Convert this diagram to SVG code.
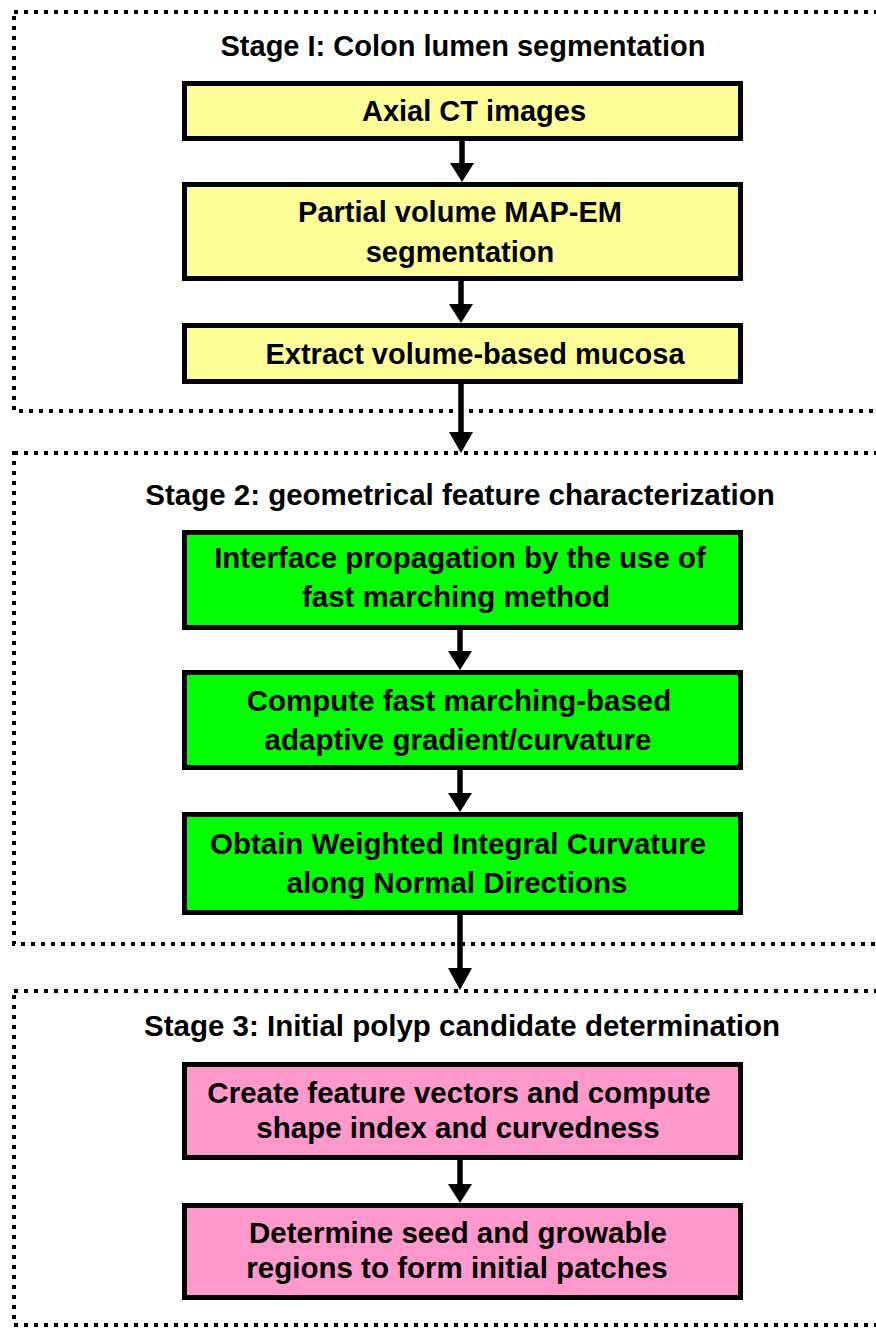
<svg xmlns="http://www.w3.org/2000/svg" width="876" height="1328" viewBox="0 0 876 1328">
<style>
.frame{fill:none;stroke:#000;stroke-width:4;stroke-dasharray:4 6}
.box{stroke:#000;stroke-width:5}
.y{fill:#FFFF99}.g{fill:#00FF00}.p{fill:#FF99CC}
text{font-family:"Liberation Sans",Arial,sans-serif;font-weight:bold;font-size:29px;fill:#000;text-anchor:middle}
.t2{font-size:29.5px}
.ln{stroke:#000;stroke-width:5.5}
</style>
<rect width="876" height="1328" fill="#fff"/>
<g id="stage1">
<rect class="frame" x="14" y="12" width="880" height="399"/>
<text x="463" y="56">Stage I: Colon lumen segmentation</text>
</g>
<g id="stage2">
<rect class="frame" x="14" y="453" width="880" height="491"/>
<text class="t2" x="460" y="505">Stage 2: geometrical feature characterization</text>
</g>
<g id="stage3">
<rect class="frame" x="14" y="991" width="880" height="334"/>
<text class="t2" x="462" y="1036">Stage 3: Initial polyp candidate determination</text>
</g>
<g id="n1"><rect class="box y" x="184.5" y="83.5" width="556" height="55"/><text x="474" y="121">Axial CT images</text></g>
<g id="n2"><rect class="box y" x="184.5" y="184.5" width="556" height="94"/><text x="460" y="222">Partial volume MAP-EM</text><text x="460" y="262">segmentation</text></g>
<g id="n3"><rect class="box y" x="184.5" y="325.5" width="556" height="56"/><text x="475" y="364">Extract volume-based mucosa</text></g>
<g id="n4"><rect class="box g" x="184.5" y="532.5" width="556" height="95"/><text class="t2" x="460" y="568">Interface propagation by the use of</text><text class="t2" x="456" y="607">fast marching method</text></g>
<g id="n5"><rect class="box g" x="184.5" y="672.5" width="556" height="95"/><text class="t2" x="459" y="711">Compute fast marching-based</text><text class="t2" x="458" y="750">adaptive gradient/curvature</text></g>
<g id="n6"><rect class="box g" x="184.5" y="814.5" width="556" height="98"/><text class="t2" x="458" y="854">Obtain Weighted Integral Curvature</text><text class="t2" x="457" y="893">along Normal Directions</text></g>
<g id="n7"><rect class="box p" x="184.5" y="1064.5" width="556" height="93"/><text class="t2" x="459" y="1103">Create feature vectors and compute</text><text class="t2" x="458" y="1138">shape index and curvedness</text></g>
<g id="n8"><rect class="box p" x="184.5" y="1205.5" width="556" height="92"/><text class="t2" x="458" y="1243">Determine seed and growable</text><text class="t2" x="457" y="1278">regions to form initial patches</text></g>
<g id="connectors">
<line class="ln" x1="462" y1="141" x2="462" y2="165"/><polygon points="450,163 474,163 462,182"/>
<line class="ln" x1="461" y1="281" x2="461" y2="306"/><polygon points="449,304 473,304 461,323"/>
<line class="ln" x1="461" y1="384" x2="461" y2="434"/><polygon points="449,432 473,432 461,453"/>
<line class="ln" x1="460" y1="630" x2="460" y2="653"/><polygon points="448,651 472,651 460,670"/>
<line class="ln" x1="460" y1="770" x2="460" y2="795"/><polygon points="448,793 472,793 460,812"/>
<line class="ln" x1="460" y1="915" x2="460" y2="970"/><polygon points="448,968 472,968 460,990"/>
<line class="ln" x1="460" y1="1160" x2="460" y2="1186"/><polygon points="448,1184 472,1184 460,1203"/>
</g>
</svg>
